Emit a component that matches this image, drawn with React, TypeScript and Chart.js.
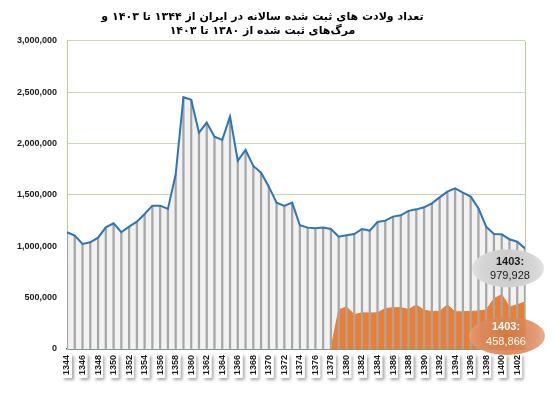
import React, { useEffect, useRef } from 'react';
import { Chart, registerables } from 'chart.js';

Chart.register(...registerables);

const years = [
  '1344', '1345', '1346', '1347', '1348', '1349', '1350', '1351', '1352', '1353',
  '1354', '1355', '1356', '1357', '1358', '1359', '1360', '1361', '1362', '1363',
  '1364', '1365', '1366', '1367', '1368', '1369', '1370', '1371', '1372', '1373',
  '1374', '1375', '1376', '1377', '1378', '1379', '1380', '1381', '1382', '1383',
  '1384', '1385', '1386', '1387', '1388', '1389', '1390', '1391', '1392', '1393',
  '1394', '1395', '1396', '1397', '1398', '1399', '1400', '1401', '1402', '1403',
];

const births = [
  1137000, 1104000, 1023000, 1039000, 1084000, 1185000, 1224000, 1137000, 1191000, 1240000,
  1315000, 1396000, 1396000, 1364000, 1700000, 2452000, 2426000, 2107000, 2205000, 2068000,
  2036000, 2263000, 1834000, 1938000, 1783000, 1717000, 1581000, 1425000, 1393000, 1425000,
  1205000, 1182000, 1175000, 1182000, 1169000, 1094000, 1107000, 1120000, 1169000, 1153000,
  1237000, 1250000, 1289000, 1302000, 1345000, 1360000, 1380000, 1419000, 1477000, 1532000,
  1565000, 1523000, 1484000, 1370000, 1191000, 1120000, 1117000, 1068000, 1045000, 979928,
];

const deaths = [
  null, null, null, null, null, null, null, null, null, null,
  null, null, null, null, null, null, null, null, null, null,
  null, null, null, null, null, null, null, null, null, null,
  null, null, null, null, 0, 380000, 410000, 335000, 352000, 350000,
  352000, 395000, 402000, 403000, 385000, 428000, 378000, 365000, 366000, 430000,
  362000, 362000, 366000, 370000, 380000, 490000, 530000, 410000, 430000, 458866,
];

const titleLines = [
  'تعداد ولادت های ثبت شده سالانه در ایران از ۱۳۴۴ تا ۱۴۰۳ و',
  'مرگ‌های ثبت شده از ۱۳۸۰ تا ۱۴۰۳',
];

const birthsLabel = ['1403:', '979,928'];
const deathsLabel = ['1403:', '458,866'];

const fmt = (v: number) => Math.round(v).toLocaleString('en-US');

const decorPlugin = {
  id: 'decor',
  beforeDraw(chart: any) {
    const ctx = chart.ctx;
    const xs = chart.scales.x;
    ctx.save();
    ctx.shadowColor = 'rgba(0,0,0,0.35)';
    ctx.shadowBlur = 3;
    ctx.shadowOffsetX = 2;
    ctx.shadowOffsetY = 2;
    ctx.fillStyle = '#ffffff';
    for (let i = 0; i < years.length; i += 2) {
      const px = xs.getPixelForTick(i);
      ctx.fillRect(px - 5, chart.chartArea.bottom + 5, 10, 24);
    }
    ctx.restore();
  },
  afterDatasetsDraw(chart: any) {
    const ctx = chart.ctx;
    const area = chart.chartArea;
    ctx.save();
    ctx.strokeStyle = '#b9d18f';
    ctx.lineWidth = 1;
    ctx.beginPath();
    ctx.moveTo(area.right + 0.5, area.top);
    ctx.lineTo(area.right + 0.5, area.bottom);
    ctx.stroke();

    const bMeta = chart.getDatasetMeta(3);
    const dMeta = chart.getDatasetMeta(1);
    const bp = bMeta.data[bMeta.data.length - 1];
    const dp = dMeta.data[dMeta.data.length - 1];

    let cx = bp.x - 17;
    let cy = bp.y + 20;
    let g = ctx.createRadialGradient(cx, cy, 2, cx, cy, 38);
    g.addColorStop(0, '#c8c8c8');
    g.addColorStop(0.7, '#d6d6d6');
    g.addColorStop(1, '#e4e4e4');
    ctx.fillStyle = g;
    ctx.beginPath();
    ctx.ellipse(cx, cy, 36, 19, 0, 0, Math.PI * 2);
    ctx.fill();
    ctx.fillStyle = '#1a1a1a';
    ctx.textAlign = 'center';
    ctx.textBaseline = 'middle';
    ctx.font = 'bold 11px "Liberation Sans", Arial, sans-serif';
    ctx.fillText(birthsLabel[0], bp.x - 15, bp.y + 14);
    ctx.font = '11px "Liberation Sans", Arial, sans-serif';
    ctx.fillText(birthsLabel[1], bp.x - 15, bp.y + 28);

    cx = dp.x - 18;
    cy = dp.y + 34;
    g = ctx.createRadialGradient(cx, cy, 2, cx, cy, 40);
    g.addColorStop(0, 'rgba(214,120,62,0.92)');
    g.addColorStop(0.7, 'rgba(222,140,95,0.88)');
    g.addColorStop(1, 'rgba(230,165,130,0.85)');
    ctx.fillStyle = g;
    ctx.beginPath();
    ctx.ellipse(cx, cy, 38, 19, 0, 0, Math.PI * 2);
    ctx.fill();
    ctx.fillStyle = '#ffffff';
    ctx.font = 'bold 11px "Liberation Sans", Arial, sans-serif';
    ctx.fillText(deathsLabel[0], dp.x - 19, dp.y + 25);
    ctx.font = '11px "Liberation Sans", Arial, sans-serif';
    ctx.fillText(deathsLabel[1], dp.x - 19, dp.y + 40);
    ctx.restore();
  },
};

export default function App() {
  const ref = useRef<HTMLCanvasElement>(null);
  useEffect(() => {
    document.body.style.margin = '0';
    const chart = new Chart(ref.current as HTMLCanvasElement, {
      type: 'line',
      data: {
        labels: years,
        datasets: [
          {
            type: 'line',
            data: births,
            fill: 'origin',
            backgroundColor: '#f2f2f2',
            borderWidth: 0,
            pointRadius: 0,
            order: 4,
          } as any,
          {
            type: 'line',
            data: deaths,
            fill: 'origin',
            backgroundColor: '#ed7d31',
            borderColor: '#ed7d31',
            borderWidth: 1,
            pointRadius: 0,
            spanGaps: false,
            order: 3,
          },
          {
            type: 'bar',
            data: births,
            backgroundColor: '#a6a6a6',
            barThickness: 1.6,
            order: 2,
          },
          {
            type: 'line',
            data: births,
            fill: false,
            borderColor: '#2e75b6',
            borderWidth: 2,
            pointRadius: 0,
            tension: 0,
            order: 1,
          },
        ],
      },
      options: {
        animation: false,
        responsive: true,
        maintainAspectRatio: false,
        layout: { padding: { left: 0, right: 28, top: 0, bottom: 0 } },
        plugins: {
          legend: { display: false },
          tooltip: { enabled: false },
          title: {
            display: true,
            text: titleLines,
            color: '#000000',
            font: { family: '"DejaVu Sans", sans-serif', size: 11, weight: 'bold', lineHeight: 1.27 },
            padding: { top: 10, bottom: 3 },
          },
        },
        scales: {
          x: {
            type: 'category',
            offset: false,
            grid: { display: false, offset: false, drawTicks: false },
            border: { display: true, color: '#44546a', width: 1.5 },
            ticks: {
              autoSkip: false,
              maxRotation: 90,
              minRotation: 90,
              padding: 6,
              color: '#1a1a1a',
              font: { family: '"Liberation Sans", Arial, sans-serif', size: 9, weight: 'bold' },
              callback: (_v: any, i: number) => (i % 2 === 0 ? years[i] : ''),
            },
            afterFit: (s: any) => {
              s.height = 46;
            },
          },
          y: {
            min: 0,
            max: 3000000,
            grid: { color: '#c8dcaa', drawTicks: false },
            border: { display: true, color: '#b9d18f' },
            ticks: {
              stepSize: 500000,
              padding: 10,
              color: '#1a1a1a',
              font: { family: '"Liberation Sans", Arial, sans-serif', size: 9, weight: 'bold' },
              callback: (v: any) => fmt(Number(v)),
            },
            afterFit: (s: any) => {
              s.width = 67;
            },
          },
        },
      },
      plugins: [decorPlugin],
    });
    return () => chart.destroy();
  }, []);
  return (
    <div style={{ width: '553px', height: '395px', position: 'relative' }}>
      <canvas ref={ref} />
    </div>
  );
}
